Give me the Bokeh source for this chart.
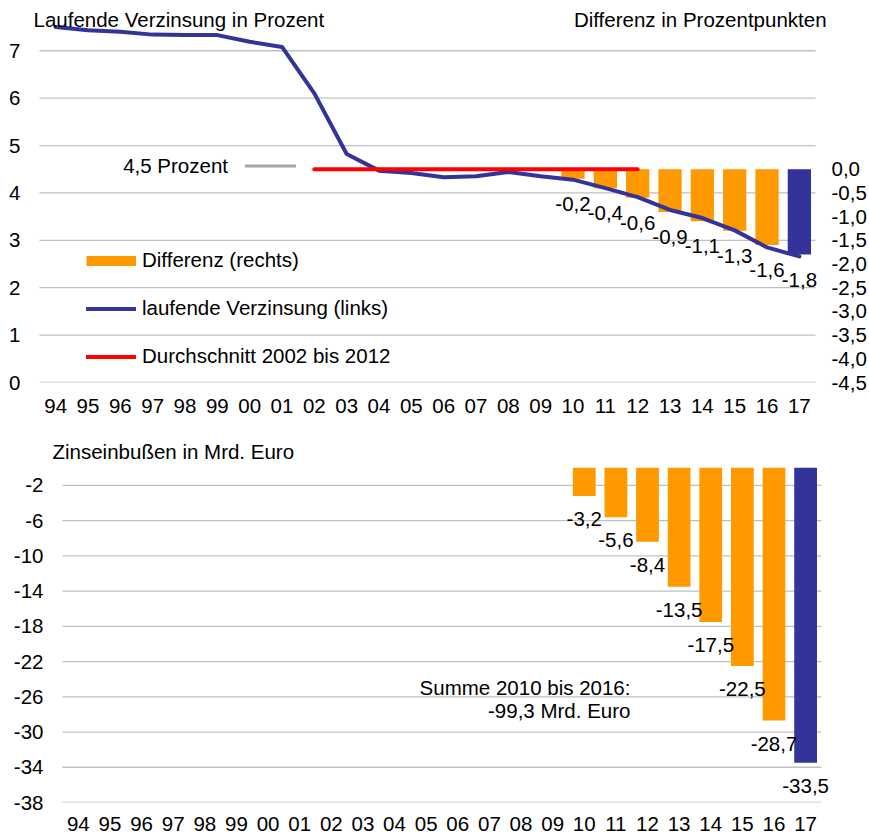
from bokeh.plotting import figure
from bokeh.models import (Range1d, LinearAxis, FixedTicker, CustomJSTickFormatter,
                          Legend, LegendItem, ColumnDataSource)
from bokeh.embed import file_html
from bokeh.resources import INLINE
from bokeh.core.properties import value

# ---------------- data ----------------
years = ["94", "95", "96", "97", "98", "99", "00", "01", "02", "03", "04", "05",
         "06", "07", "08", "09", "10", "11", "12", "13", "14", "15", "16", "17"]
verzinsung = [7.50, 7.43, 7.40, 7.34, 7.33, 7.33, 7.19, 7.08, 6.10, 4.82, 4.47, 4.42,
              4.33, 4.35, 4.44, 4.35, 4.28, 4.10, 3.91, 3.64, 3.47, 3.21, 2.85, 2.66]
avg_years = ["02", "12"]
avg_value = 4.5
diff_years = ["10", "11", "12", "13", "14", "15", "16", "17"]
diff_values = [-0.2, -0.4, -0.6, -0.9, -1.1, -1.3, -1.6, -1.8]
loss_years = ["10", "11", "12", "13", "14", "15", "16", "17"]
loss_values = [-3.2, -5.6, -8.4, -13.5, -17.5, -22.5, -28.7, -33.5]
left_ticks = [0, 1, 2, 3, 4, 5, 6, 7]
right_ticks = [0.0, -0.5, -1.0, -1.5, -2.0, -2.5, -3.0, -3.5, -4.0, -4.5]
right_offset = -4.5          # right axis value = left axis value + right_offset
bottom_ticks = [-2, -6, -10, -14, -18, -22, -26, -30, -34, -38]
title_top_left = "Laufende Verzinsung in Prozent"
title_top_right = "Differenz in Prozentpunkten"
title_bottom = "Zinseinbußen in Mrd. Euro"
marker_text = "4,5 Prozent"
summe_text = ["Summe 2010 bis 2016:", "-99,3 Mrd. Euro"]

# ---------------- styles ----------------
ORANGE = "#FF9900"
BLUE = "#333399"
RED = "#FF0000"
GREY = "#A6A6A6"
GRID = "#C0C0C0"
FONT = "Liberation Sans"
FS = "20.5px"
W = 869

n = len(years)
xidx = {y: i for i, y in enumerate(years)}
x_all = list(range(n))
bar_colors = [ORANGE] * (len(diff_years) - 1) + [BLUE]
TXT = dict(text_font=value(FONT), text_font_size=FS, text_color="black")


def fmt(v):
    return f"{v:.1f}".replace(".", ",")


def style(p):
    p.title.visible = False
    p.outline_line_color = None
    p.xgrid.grid_line_color = None
    p.ygrid.grid_line_color = None
    p.background_fill_color = "white"
    p.border_fill_color = "white"
    for ax in p.axis:
        ax.axis_line_color = None
        ax.major_tick_line_color = None
        ax.minor_tick_line_color = None
        ax.major_tick_out = 0
        ax.major_tick_in = 0
        ax.major_label_text_font = FONT
        ax.major_label_text_font_size = FS
        ax.major_label_text_color = "black"
    p.xaxis.ticker = FixedTicker(ticks=x_all)
    p.xaxis.major_label_overrides = {i: y for i, y in enumerate(years)}


def gridlines(p, ticks):
    p.segment(x0=[-0.5] * len(ticks), x1=[n - 0.5] * len(ticks), y0=ticks, y1=ticks,
              line_color=GRID, line_width=1.3)


int_fmt = "return String(Math.round(tick));"
dec_fmt = "return tick.toFixed(1).replace('.', ',');"

# ================= top chart =================
p1 = figure(width=W, height=422, output_backend="svg", toolbar_location=None,
            x_range=Range1d(-0.747, 23.87), y_range=Range1d(0, 8.06),
            min_border_left=31, min_border_right=40, min_border_top=0, min_border_bottom=40)
p1.extra_y_ranges = {"right": Range1d(0 + right_offset, 8.06 + right_offset)}
right_axis = LinearAxis(y_range_name="right")
p1.add_layout(right_axis, "right")
style(p1)
p1.yaxis[0].ticker = FixedTicker(ticks=left_ticks)
p1.yaxis[0].formatter = CustomJSTickFormatter(code=int_fmt)
p1.yaxis[0].major_label_standoff = 11
right_axis.ticker = FixedTicker(ticks=right_ticks)
right_axis.formatter = CustomJSTickFormatter(code=dec_fmt)
right_axis.major_label_standoff = 4
p1.xaxis.major_label_standoff = 16

gridlines(p1, left_ticks)

diff_src = ColumnDataSource(dict(x=[xidx[y] for y in diff_years], top=[0] * len(diff_values),
                                 bottom=diff_values, color=bar_colors,
                                 label=[fmt(v) for v in diff_values]))
p1.vbar(x="x", top="top", bottom="bottom", width=0.72, fill_color="color",
        line_color=None, source=diff_src, y_range_name="right")

blue_line = p1.line(x_all, verzinsung, line_color=BLUE, line_width=4,
                    line_join="round", line_cap="round")
red_line = p1.line([xidx[y] for y in avg_years], [avg_value, avg_value], line_color=RED,
                   line_width=4, line_cap="round")

p1.text(x="x", y="bottom", text="label", source=diff_src, y_range_name="right",
        text_align="center", text_baseline="middle", y_offset=25, **TXT)

# "4,5 Prozent" marker
p1.segment(x0=[5.85], y0=[4.57], x1=[7.43], y1=[4.57], line_color=GREY, line_width=3)
p1.text(x=[5.33], y=[4.57], text=[marker_text], text_align="right", text_baseline="middle", **TXT)

# headings
p1.text(x=[-0.685], y=[7.65], text=[title_top_left], text_align="left",
        text_baseline="middle", **TXT)
p1.text(x=[23.84], y=[7.65], text=[title_top_right], text_align="right",
        text_baseline="middle", **TXT)

orange_dummy = p1.line(x=[float("nan")], y=[float("nan")], line_color=ORANGE, line_width=10)
legend = Legend(items=[LegendItem(label="Differenz (rechts)", renderers=[orange_dummy]),
                       LegendItem(label="laufende Verzinsung (links)", renderers=[blue_line]),
                       LegendItem(label="Durchschnitt 2002 bis 2012", renderers=[red_line])],
                location=(55, 14), orientation="vertical", glyph_width=50, glyph_height=23,
                label_height=23, spacing=24, padding=0, margin=0, label_standoff=6,
                border_line_color=None, background_fill_alpha=0,
                label_text_font=FONT, label_text_font_size=FS, label_text_color="black")
p1.add_layout(legend)

# ================= bottom chart =================
p2 = figure(width=W, height=418, output_backend="svg", toolbar_location=None,
            x_range=Range1d(-0.879, 25.02), y_range=Range1d(-38, 5.15),
            min_border_left=50, min_border_right=0, min_border_top=0, min_border_bottom=38)
style(p2)
p2.yaxis.ticker = FixedTicker(ticks=bottom_ticks)
p2.yaxis.formatter = CustomJSTickFormatter(code=int_fmt)
p2.yaxis.major_label_standoff = 7
p2.xaxis.major_label_standoff = 14

gridlines(p2, bottom_ticks)

loss_src = ColumnDataSource(dict(x=[xidx[y] for y in loss_years], top=[0] * len(loss_values),
                                 bottom=loss_values, color=bar_colors,
                                 label=[fmt(v) for v in loss_values]))
p2.vbar(x="x", top="top", bottom="bottom", width=0.72, fill_color="color",
        line_color=None, source=loss_src)
p2.text(x="x", y="bottom", text="label", source=loss_src,
        text_align="center", text_baseline="middle", y_offset=23, **TXT)
p2.text(x=[17.46, 17.46], y=[-24.9, -27.5], text=summe_text, text_align="right",
        text_baseline="middle", **TXT)
p2.text(x=[-0.816], y=[1.9], text=[title_bottom], text_align="left",
        text_baseline="middle", **TXT)

open("out.html", "w").write(file_html([p1, p2], INLINE))
